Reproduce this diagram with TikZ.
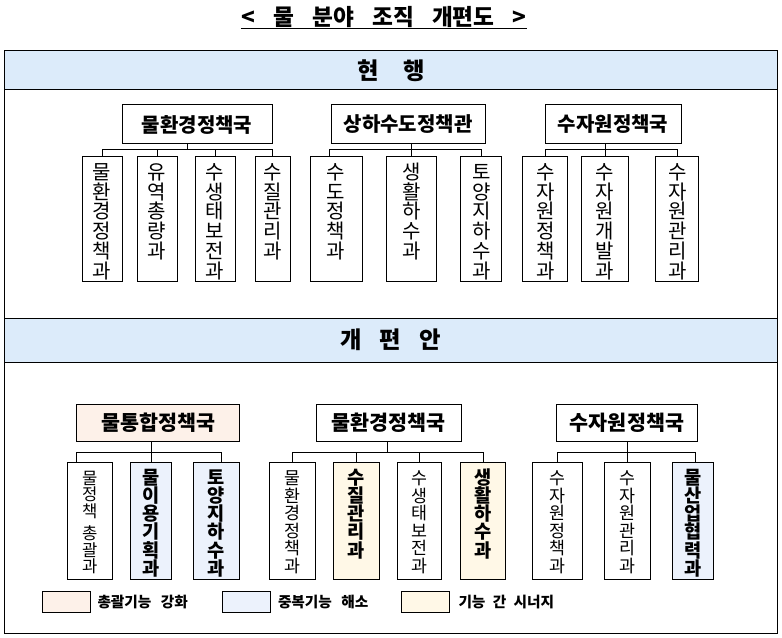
\documentclass[tikz,border=0pt]{standalone}
\usepackage{fontspec}
\setmainfont{Noto Sans CJK KR}
\usepackage{tikz}
\usetikzlibrary{calc}
\definecolor{bandblue}{RGB}{220,235,250}
\definecolor{peach}{RGB}{253,241,233}
\definecolor{paleblue}{RGB}{236,242,252}
\definecolor{cream}{RGB}{255,248,231}
\newcommand{\spaced}[2]{{\spaceskip=#1\relax#2}}

\begin{document}
\begin{tikzpicture}[x=0.75pt,y=-0.75pt,line width=0.75pt,
  band/.style={draw,fill=bandblue,minimum width=579.4pt,inner sep=0pt,
    font=\bfseries\fontsize{17.5pt}{19pt}\selectfont},
  bureau/.style={draw,inner sep=0pt,minimum height=29.25pt,
    font=\bfseries\fontsize{15pt}{17pt}\selectfont},
  bureaunew/.style={bureau,minimum height=27.75pt,
    font=\bfseries\fontsize{15.5pt}{17pt}\selectfont},
  unit/.style={draw,anchor=north,inner sep=0pt,text width=18pt,align=center,
    text height=17.25pt,text depth=76.5pt,font=\fontsize{15pt}{14.8pt}\selectfont},
  dept/.style={draw,anchor=north,inner sep=0pt,text width=20pt,align=center,
    text height=16.2pt,text depth=71.55pt,font=\fontsize{13pt}{13.2pt}\selectfont},
  deptnew/.style={dept,text height=16.3pt,text depth=71.45pt,
    font=\bfseries\fontsize{14pt}{13.6pt}\selectfont},
  swatch/.style={draw,minimum width=36pt,minimum height=15.4pt,inner sep=0pt},
  note/.style={anchor=west,inner sep=0pt,
    font=\bfseries\fontsize{11pt}{12pt}\selectfont}]
\useasboundingbox (0,0) rectangle (782,638);

\node [anchor=base,inner sep=0pt,text depth=1.6pt,
  font=\bfseries\fontsize{17pt}{18pt}\selectfont]
  (title) at (384,26) {\spaced{.8em}{< 물 분야 조직 개편도 >}};
\draw (title.south west) -- (title.south east);

\node [band,minimum height=29.25pt] (now) at (390.75,70.5) {\spaced{1.05em}{현 행}};
\node [band,minimum height=33pt] (plan) at (390.75,340) {\spaced{.76em}{개 편 안}};
\draw (4.5,51) rectangle (777,633.5);

\node [bureau,minimum width=112.5pt] (tb1) at (197,124.5) {물환경정책국};
\node [bureau,minimum width=115.5pt] (tb2) at (408,124.5) {상하수도정책관};
\node [bureau,minimum width=102pt] (tb3) at (613,124.5) {수자원정책국};

\node [unit,minimum width=30pt] (tu1) at (102,156) {물\\환\\경\\정\\책\\과};
\node [unit,minimum width=30pt] (tu2) at (157,156) {유\\역\\총\\량\\과};
\node [unit,minimum width=30pt] (tu3) at (215,156) {수\\생\\태\\보\\전\\과};
\node [unit,minimum width=26.25pt] (tu4) at (272.5,156) {수\\질\\관\\리\\과};
\node [unit,minimum width=39pt] (tu5) at (336,156) {수\\도\\정\\책\\과};
\node [unit,minimum width=37.5pt] (tu6) at (411.5,156) {생\\활\\하\\수\\과};
\node [unit,minimum width=31pt] (tu7) at (481.25,156) {토\\양\\지\\하\\수\\과};
\node [unit,minimum width=33.4pt] (tu8) at (545.25,156) {수\\자\\원\\정\\책\\과};
\node [unit,minimum width=35.25pt] (tu9) at (605,156) {수\\자\\원\\개\\발\\과};
\node [unit,minimum width=32.6pt] (tu10) at (677.25,156) {수\\자\\원\\관\\리\\과};

\draw (tu1.north) -- ++(0,-6) -| (tu4.north);
\draw (tu2.north) -- ++(0,-6);
\draw (tu3.north) -- ++(0,-6);
\coordinate (m1) at ($(tu1.north)!.5!(tu4.north)+(0,-6)$);
\draw (m1) -- (m1 |- tb1.south);
\draw ($(tu5.north west)!.38!(tu5.north east)$) -- ++(0,-6) -| (tu7.north);
\draw (tu6.north) -- (tu6.north |- tb2.south);
\draw (tu8.north) -- ++(0,-6) -| (tu10.north);
\draw (tu9.north) -- (tu9.north |- tb3.south);

\node [bureaunew,minimum width=122.6pt,fill=peach] (bb1) at (158.25,422.5) {물통합정책국};
\node [bureaunew,minimum width=108.4pt] (bb2) at (388.75,422.5) {물환경정책국};
\node [bureaunew,minimum width=105.75pt] (bb3) at (627,422.5) {수자원정책국};

\node [dept,minimum width=33.75pt,font=\fontsize{12.5pt}{12.3pt}\selectfont]
  (bu1) at (89.8,462.3) {물\\정\\책\\[4.5pt]총\\괄\\과};
\node [deptnew,minimum width=31pt,fill=paleblue] (bu2) at (151,462.3) {물\\이\\용\\기\\획\\과};
\node [deptnew,minimum width=34.5pt,fill=paleblue] (bu3) at (216.3,462.3) {토\\양\\지\\하\\수\\과};
\node [dept,minimum width=34.3pt] (bu4) at (292.85,462.3) {물\\환\\경\\정\\책\\과};
\node [deptnew,minimum width=34.5pt,fill=cream] (bu5) at (356.3,462.3) {수\\질\\관\\리\\과};
\node [dept,minimum width=33.3pt] (bu6) at (419.5,462.3) {수\\생\\태\\보\\전\\과};
\node [deptnew,minimum width=33.5pt,fill=cream] (bu7) at (483,462.3) {생\\활\\하\\수\\과};
\node [dept,minimum width=37.2pt] (bu8) at (557.5,462.3) {수\\자\\원\\정\\책\\과};
\node [dept,minimum width=34.3pt] (bu9) at (627.15,462.3) {수\\자\\원\\관\\리\\과};
\node [deptnew,minimum width=30.75pt,fill=paleblue] (bu10) at (692.8,462.3) {물\\산\\업\\협\\력\\과};

\draw ($(bu1.north west)!.21!(bu1.north east)$) -- ++(0,-9.6)
  -| ($(bu3.north west)!.62!(bu3.north east)$);
\draw (bu2.north) -- (bu2.north |- bb1.south);
\draw (bu4.north) -- ++(0,-9.6) -| (bu7.north);
\draw (bu5.north) -- ++(0,-9.6);
\draw (bu6.north) -- ++(0,-9.6);
\coordinate (m2) at ($(bu4.north)!.5!(bu7.north)+(0,-9.6)$);
\draw (m2) -- (m2 |- bb2.south);
\draw (bu8.north) -- ++(0,-9.6) -| ($(bu10.north west)!.56!(bu10.north east)$);
\draw (bu9.north) -- (bu9.north |- bb3.south);

\node [swatch,fill=peach] (k1) at (66,601.75) {};
\node [note] (n1) at (97,601.75) {\spaced{.65em}{총괄기능 강화}};
\node [swatch,fill=paleblue] (k2) at (246.25,601.75) {};
\node [note] (n2) at (277.5,601.75) {\spaced{.65em}{중복기능 해소}};
\node [swatch,fill=cream] (k3) at (425.5,601.75) {};
\node [note] (n3) at (458,601.75) {\spaced{.5em}{기능 간 시너지}};
\end{tikzpicture}
\end{document}
